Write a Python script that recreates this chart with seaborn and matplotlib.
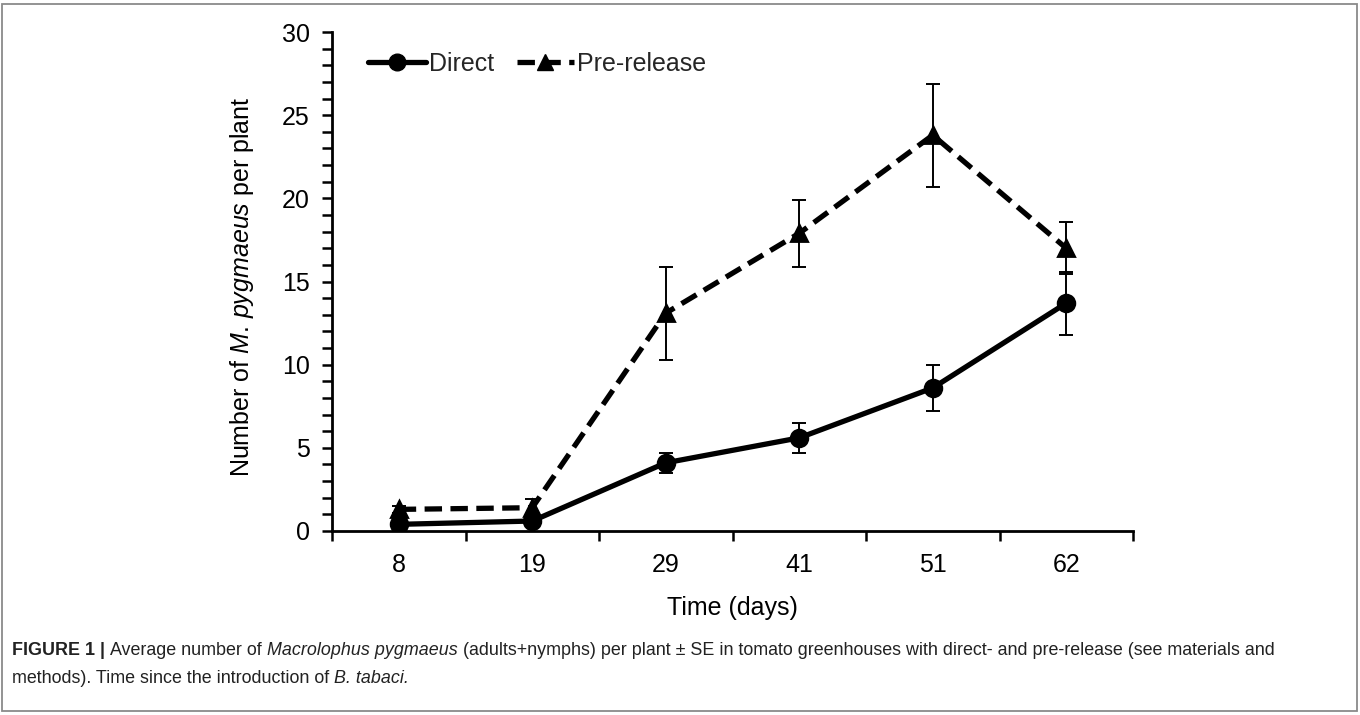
import numpy as np
import pandas as pd
import matplotlib
matplotlib.use("Agg")
import matplotlib.pyplot as plt
import seaborn as sns
from matplotlib.lines import Line2D
from matplotlib.patches import Rectangle

# ---------------- data ----------------
days = ["8", "19", "29", "41", "51", "62"]
series = ["Direct", "Pre-release"]
direct_mean = [0.4, 0.6, 4.1, 5.6, 8.6, 13.7]
direct_se = [0.15, 0.2, 0.6, 0.9, 1.4, 1.9]
pre_mean = [1.3, 1.4, 13.1, 17.9, 23.8, 17.0]
pre_se = [0.2, 0.5, 2.8, 2.0, 3.1, 1.55]
y_ticks = [0, 5, 10, 15, 20, 25, 30]

df = pd.DataFrame({
    "Time": days * 2,
    "Mean": direct_mean + pre_mean,
    "Series": [series[0]] * len(days) + [series[1]] * len(days),
})

W, H = 1360, 715
sns.set_theme(style="ticks")
plt.rcParams["font.family"] = ["Liberation Sans", "DejaVu Sans"]
plt.rcParams["mathtext.fontset"] = "custom"
plt.rcParams["mathtext.rm"] = "Liberation Sans"
plt.rcParams["mathtext.it"] = "Liberation Sans:italic"
plt.rcParams["mathtext.bf"] = "Liberation Sans:bold"

fig = plt.figure(figsize=(W / 100, H / 100), dpi=100)
fig.patch.set_facecolor("white")
ax = fig.add_axes([332 / W, 1 - 531 / H, (1133 - 332) / W, (531 - 32) / H])
ax.set_facecolor("white")

sns.pointplot(data=df, x="Time", y="Mean", hue="Series", order=days,
              hue_order=series, palette=["black", "black"],
              markers=["o", "^"], linestyles=["-", "--"],
              errorbar=None, legend=False, ax=ax)

lines = [l for l in ax.lines if len(l.get_xdata()) == len(days)]
for ln, name in zip(lines, series):
    ln.set_linewidth(3.8)
    ln.set_color("black")
    ln.set_markerfacecolor("black")
    ln.set_markeredgecolor("black")
    ln.set_zorder(3)
    ln.set_markersize(12)
    if name == "Direct":
        ln.set_linestyle("-")
    else:
        ln.set_dashes([3.3, 1.6])

xpos = np.arange(len(days))
for m, se in [(direct_mean, direct_se), (pre_mean, pre_se)]:
    ax.errorbar(xpos, m, yerr=se, fmt="none", ecolor="black",
                elinewidth=1.4, capsize=5, capthick=1.4, zorder=2)

ax.set_xlim(-0.5, len(days) - 0.5)
ax.set_ylim(0, 30)
ax.set_yticks(y_ticks)
ax.set_yticks(np.arange(0, 31, 1), minor=True)
ax.set_xticks(xpos)
ax.set_xticklabels(days)
ax.set_xticks(np.arange(-0.5, len(days), 1), minor=True)

ax.tick_params(axis="y", which="both", direction="out", length=7, width=1.8,
               color="black", labelsize=18, pad=9, labelcolor="black")
ax.tick_params(axis="x", which="major", length=0, pad=16, labelsize=18,
               labelcolor="black")
ax.tick_params(axis="x", which="minor", direction="out", length=7, width=1.8,
               color="black")
sns.despine(ax=ax)
for s in ["left", "bottom"]:
    ax.spines[s].set_linewidth(2.0)
    ax.spines[s].set_color("black")

ax.set_xlabel("Time (days)", fontsize=18, color="black")
ax.set_ylabel(r"Number of $\mathit{M.\,pygmaeus}$ per plant",
              fontsize=18, color="black")
ax.xaxis.set_label_coords(0.5, -0.13)
ax.yaxis.set_label_coords(-0.095, 0.49)

handles = [
    Line2D([], [], color="black", lw=3.8, marker="o", markersize=12),
    Line2D([], [], color="black", lw=3.8, marker="^", markersize=12,
           dashes=[3.3, 1.6]),
]
leg = ax.legend(handles, series, loc="upper left", bbox_to_anchor=(0.033, 0.98),
                ncol=2, frameon=False, fontsize=18, handlelength=2.3,
                handletextpad=0.12, columnspacing=0.9, borderaxespad=0)

# ---------------- frame & caption ----------------
fig.add_artist(Rectangle((2 / W, 4 / H), 1355 / W, 707 / H,
                         transform=fig.transFigure, fill=False,
                         edgecolor="#8a8a8a", lw=1.3))

cap_family = ["Liberation Sans", "DejaVu Sans"]
cap_size = 12.9
cap_color = "#222222"
renderer = fig.canvas.get_renderer()


def draw_runs(x_px, y_px, runs):
    x = x_px
    for txt, st in runs:
        weight = "bold" if st == "bold" else "normal"
        fstyle = "italic" if st == "italic" else "normal"
        t = fig.text(x / W, 1 - y_px / H, txt, fontsize=cap_size,
                     family=cap_family, fontweight=weight, fontstyle=fstyle,
                     color=cap_color, ha="left", va="baseline")
        x += t.get_window_extent(renderer).width


runs1 = [("FIGURE 1 | ", "bold"), ("Average number of ", "normal"),
         ("Macrolophus pygmaeus", "italic"),
         (" (adults+nymphs) per plant \u00b1 SE in tomato greenhouses with "
          "direct- and pre-release (see materials and", "normal")]
runs2 = [("methods). Time since the introduction of ", "normal"),
         ("B. tabaci.", "italic")]
draw_runs(12, 655, runs1)
draw_runs(12, 683, runs2)

fig.savefig("out.png", dpi=100, facecolor="white")
